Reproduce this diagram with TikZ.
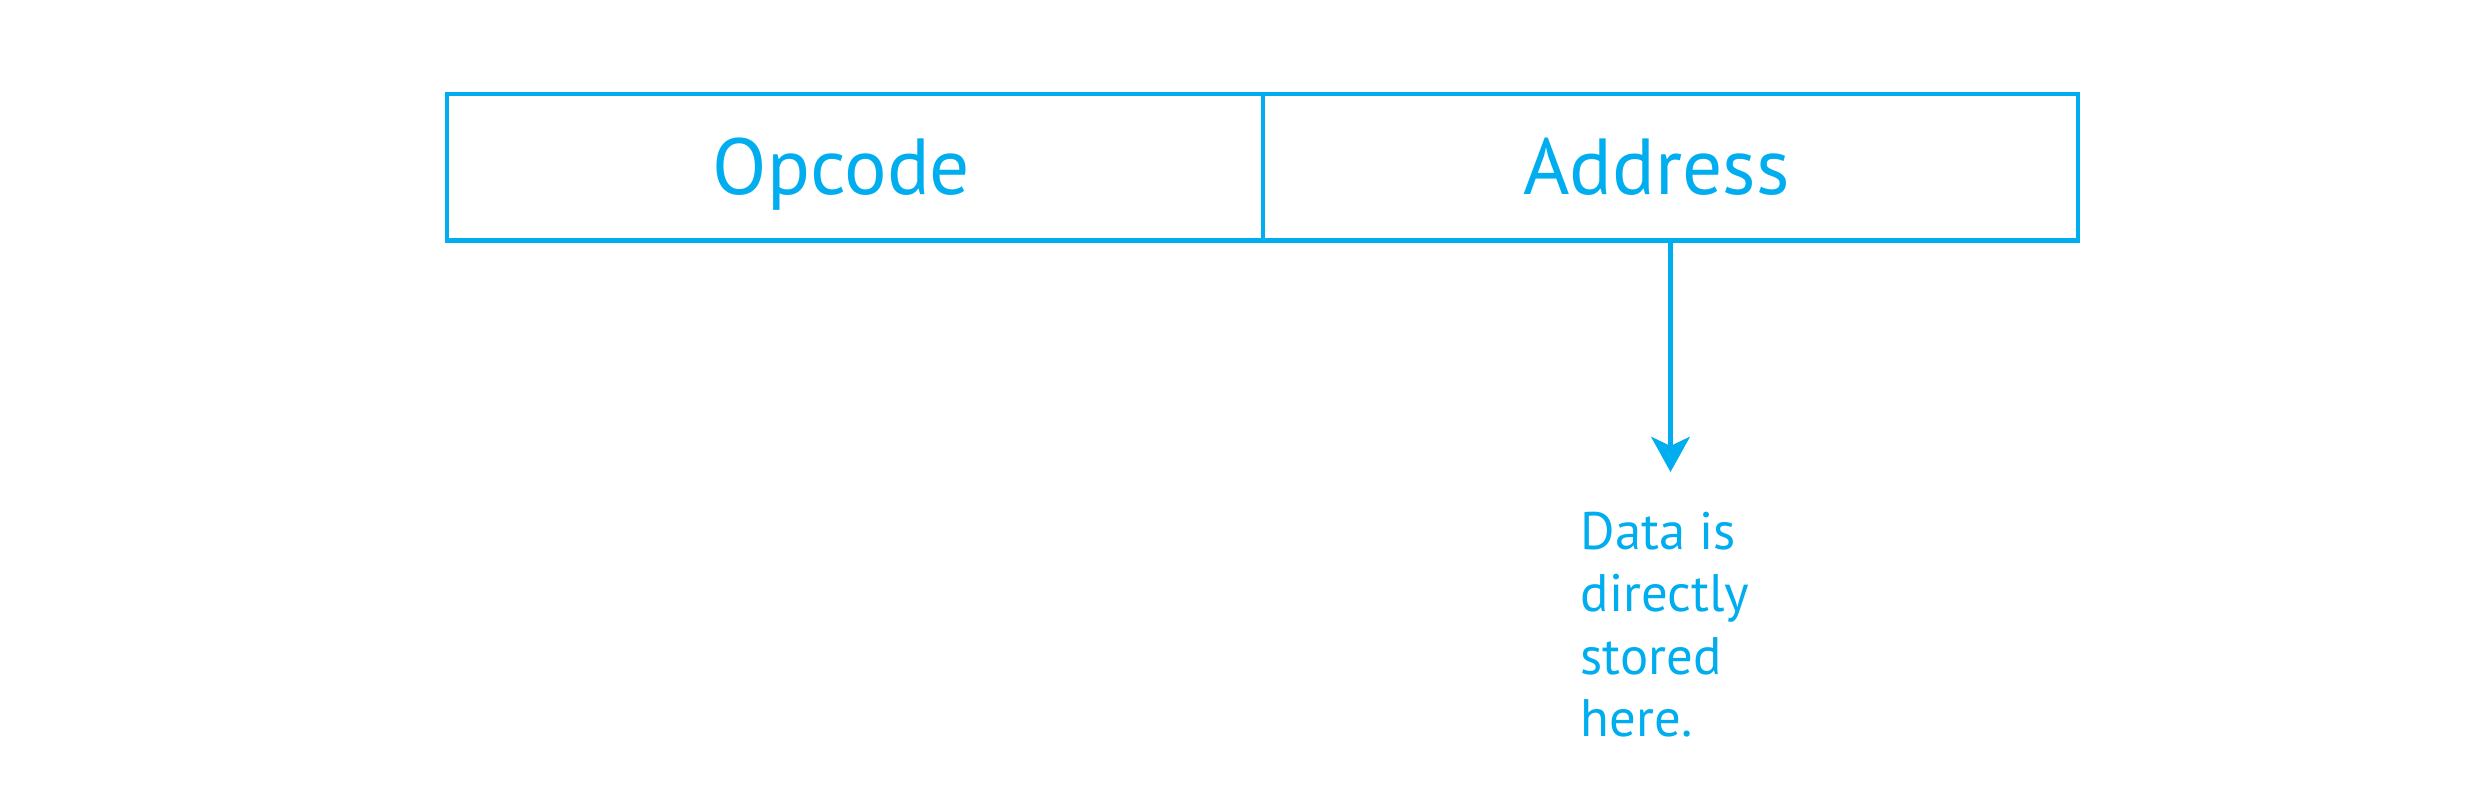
\documentclass[tikz,border=0pt]{standalone}
\usepackage{fontspec}
\setmainfont{PT Sans}
\usetikzlibrary{arrows.meta}
\definecolor{cyanline}{HTML}{00AEEF}
\begin{document}
\begin{tikzpicture}[x=0.01cm,y=-0.01cm,
  cell/.style={draw=cyanline,line width=1.25pt,rectangle,inner sep=0pt,minimum height=146.7*0.01cm},
  celltext/.style={text=cyanline,font=\fontsize{22.6}{26}\selectfont,inner sep=0pt,anchor=base},
  note/.style={text=cyanline,font=\fontsize{15}{17.8}\selectfont,inner sep=0pt,align=left,anchor=base west},
  pointer/.style={draw=cyanline,line width=1.2pt,-{Stealth[length=10pt,width=11pt,inset=2.6pt]}}]
\useasboundingbox (0,0) rectangle (2481,807);
\node[cell,minimum width=816*0.01cm] (opcell) at (855,167.3) {};
\node[cell,minimum width=815*0.01cm] (addrcell) at (1670.5,167.3) {};
\node[celltext] (optext) at (841.5,195) {Opcode};
\node[celltext] (addrtext) at (1656.5,195) {Address};
\coordinate (tip) at (1670.5,472);
\draw[pointer] (addrcell.south) -- (tip);
\node[note] (data) at (1580,737) {Data is\\directly\\stored\\here.};
\end{tikzpicture}
\end{document}
